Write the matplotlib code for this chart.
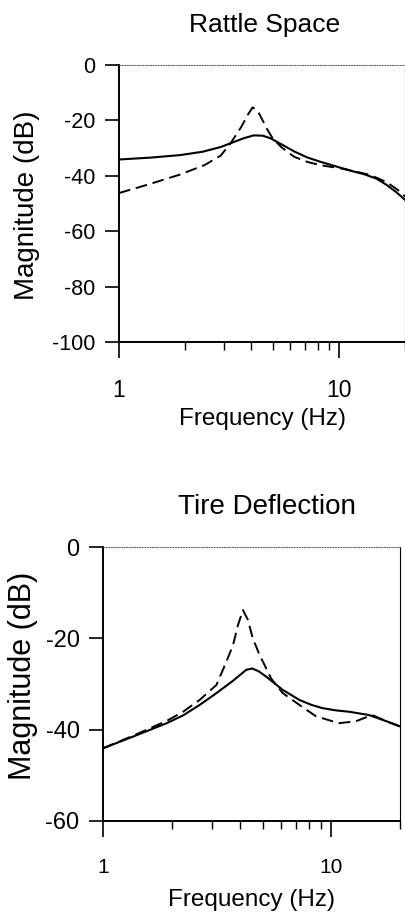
import matplotlib.pyplot as plt
import numpy as np

plt.rcParams['font.family'] = ['Liberation Sans', 'DejaVu Sans']

# Rattle space (Hz, dB)
rattle_f_solid = [1, 1.4, 1.9, 2.4, 2.9, 3.3, 3.7, 4.1, 4.5, 4.9, 5.5, 6.3, 7.2, 8.3, 9.8, 11.5, 13, 14.8, 16.5, 18.3, 20]
rattle_db_solid = [-34.1, -33.4, -32.5, -31.3, -29.6, -27.9, -26.4, -25.4, -25.5, -26.5, -28.7, -31.3, -33.4, -35.0,
                   -36.7, -38.3, -39.4, -41.0, -43.3, -46.0, -48.7]
rattle_f_dash = [1, 1.36, 1.9, 2.45, 2.9, 3.2, 3.6, 3.85, 4.05, 4.27, 4.5, 4.74, 5.0, 5.5, 6.25, 7.2, 8.3, 10.2, 12,
                 13.9, 16.5, 19, 20]
rattle_db_dash = [-46.2, -43.1, -39.5, -36.1, -32.7, -28.5, -22.3, -18.0, -15.3, -16.5, -20.0, -23.5, -26.5, -29.8,
                  -33.1, -35.0, -36.2, -37.3, -38.5, -39.7, -42.3, -45.7, -47.5]

# Tire deflection
tire_f_solid = [1, 1.36, 1.9, 2.24, 2.65, 3.14, 3.71, 4.24, 4.5, 4.8, 5.19, 6.13, 7.25, 8.2, 9.15, 10.5, 12, 14.6, 17.3, 20]
tire_db_solid = [-44.1, -41.5, -38.6, -36.9, -34.6, -32.0, -29.3, -26.9, -26.6, -27.2, -28.4, -31.3, -33.5, -34.6,
                 -35.3, -35.8, -36.1, -36.8, -38.1, -39.3]
tire_f_dash = [1, 1.36, 1.9, 2.24, 2.65, 3.14, 3.47, 3.71, 3.9, 4.1, 4.3, 4.53, 4.85, 5.45, 6.13, 7.25, 8.58, 10.8,
               12.8, 15.1, 17.3, 20]
tire_db_dash = [-44.1, -41.3, -38.1, -36.1, -33.5, -30.2, -25.1, -21.5, -17.1, -13.8, -15.8, -20.0, -23.6, -28.8,
                -32.0, -34.6, -37.1, -38.6, -38.2, -36.8, -38.1, -39.3]

fig = plt.figure(figsize=(4.06, 9.15), dpi=100)
ax1 = fig.add_axes([0.293, 0.626, 0.705, 0.303])
ax2 = fig.add_axes([0.254, 0.103, 0.731, 0.299])


def style(ax, yticks, ylim, ytick_size, xtick_size, ylab_size, ylab_xy, xlab_pad, title, title_x, title_size):
    ax.set_xscale('log')
    ax.set_xlim(1, 20)
    ax.set_ylim(*ylim)
    ax.set_yticks(yticks)
    ax.set_yticklabels([str(v) for v in yticks])
    ax.set_xticks([1, 10])
    ax.set_xticklabels(['1', '10'])
    ax.set_xticks([2, 3, 4, 5, 6, 7, 8, 9, 20], minor=True)
    ax.set_xticklabels([], minor=True)
    ax.tick_params(axis='y', which='major', direction='out', length=10, width=1.2, pad=7, labelsize=ytick_size)
    ax.tick_params(axis='x', which='major', direction='out', length=11.5, width=1.2, pad=15, labelsize=xtick_size)
    ax.tick_params(axis='x', which='minor', direction='out', length=6, width=1.0)
    ax.spines['left'].set_linewidth(1.4)
    ax.spines['bottom'].set_linewidth(1.4)
    ax.spines['top'].set_linewidth(0.7)
    ax.spines['top'].set_linestyle(':')
    ax.spines['top'].set_color('#555555')
    ax.spines['right'].set_linewidth(0.8)
    ax.set_xlabel('Frequency (Hz)', fontsize=17.5, labelpad=xlab_pad)
    ax.set_ylabel('Magnitude (dB)', fontsize=ylab_size)
    ax.yaxis.set_label_coords(*ylab_xy)
    ax.text(title_x, 1.1, title, transform=ax.transAxes, ha='center', va='bottom', fontsize=title_size)


ax1.plot(rattle_f_solid, rattle_db_solid, color='black', lw=1.5)
ax1.plot(rattle_f_dash, rattle_db_dash, color='black', lw=1.4, dashes=(6, 3))
style(ax1, [0, -20, -40, -60, -80, -100], (-100, 0), 15.5, 16.5, 20, (-0.275, 0.495), 4.5,
      'Rattle Space', 0.51, 19)

ax2.plot(tire_f_solid, tire_db_solid, color='black', lw=1.5)
ax2.plot(tire_f_dash, tire_db_dash, color='black', lw=1.4, dashes=(6, 3))
style(ax2, [0, -20, -40, -60], (-60, 0), 17, 15, 22, (-0.218, 0.529), 9,
      'Tire Deflection', 0.552, 20)

fig.savefig('out.png', dpi=100)
